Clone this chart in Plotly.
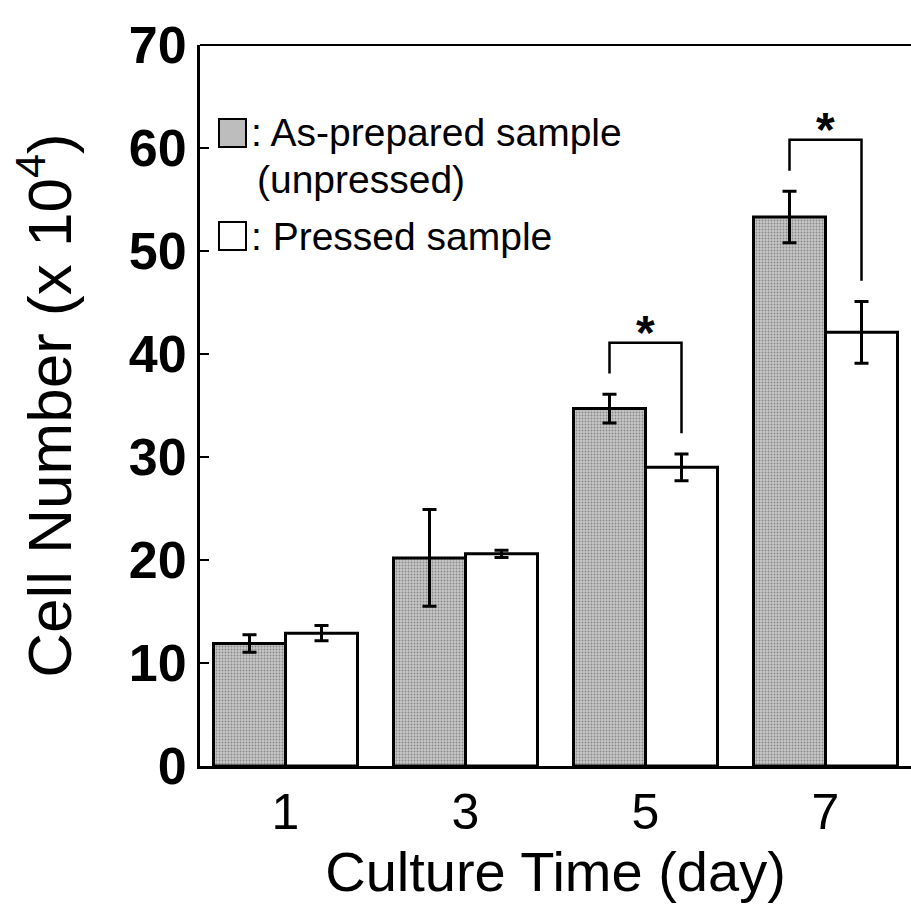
import plotly.graph_objects as go

days = ["1", "3", "5", "7"]
unpressed = [11.9, 20.2, 34.7, 53.3]
unpressed_err = [0.85, 4.7, 1.4, 2.5]
pressed = [12.9, 20.6, 29.0, 42.1]
pressed_err = [0.75, 0.35, 1.3, 3.0]
significant = [False, False, True, True]
y_ticks = [0, 10, 20, 30, 40, 50, 60, 70]

FONT = "Liberation Sans, Arial, sans-serif"

fig = go.Figure()
fig.add_trace(go.Bar(
    x=days, y=unpressed, name="As-prepared sample (unpressed)",
    marker=dict(color="#bdbdbd", line=dict(color="black", width=3),
                pattern=dict(shape=".", fgcolor="#4a4a4a", bgcolor="#c6c6c6",
                             size=3, solidity=0.3)),
    error_y=dict(type="data", array=unpressed_err, color="black",
                 thickness=3, width=7),
))
fig.add_trace(go.Bar(
    x=days, y=pressed, name="Pressed sample",
    marker=dict(color="white", line=dict(color="black", width=3)),
    error_y=dict(type="data", array=pressed_err, color="black",
                 thickness=3, width=7),
))

half = 0.2  # half of a group's bar slot (bargap 0.2, two bars)
for i, sig in enumerate(significant):
    if not sig:
        continue
    xl = i - half
    xr = i + half
    yl = unpressed[i] + unpressed_err[i] + 2.0
    yr = pressed[i] + pressed_err[i] + 2.0
    ytop = max(yl, yr) + 3.0
    fig.add_shape(type="path", xref="x", yref="y",
                  path=f"M {xl} {yl} L {xl} {ytop} L {xr} {ytop} L {xr} {yr}",
                  line=dict(color="black", width=2.5))
    fig.add_annotation(x=i, y=ytop, xref="x", yref="y", text="*",
                       showarrow=False, yanchor="bottom", yshift=-18,
                       font=dict(size=48, family=FONT, color="black", weight="bold"))

# top frame line
fig.add_shape(type="line", xref="paper", yref="paper", x0=0, x1=1, y0=1, y1=1,
              line=dict(color="black", width=2))

# custom legend
fig.add_shape(type="rect", xref="paper", yref="paper",
              x0=0.0267, x1=0.0647, y0=0.8585, y1=0.8974,
              fillcolor="#bdbdbd", line=dict(color="black", width=2))
fig.add_shape(type="rect", xref="paper", yref="paper",
              x0=0.0267, x1=0.0647, y0=0.7157, y1=0.7545,
              fillcolor="white", line=dict(color="black", width=2))
fig.add_annotation(xref="paper", yref="paper", x=0.069, y=0.8793,
                   text=": As-prepared sample", showarrow=False,
                   xanchor="left", yanchor="middle",
                   font=dict(size=39, family=FONT, color="black"))
fig.add_annotation(xref="paper", yref="paper", x=0.077, y=0.8128,
                   text="(unpressed)", showarrow=False,
                   xanchor="left", yanchor="middle",
                   font=dict(size=39, family=FONT, color="black"))
fig.add_annotation(xref="paper", yref="paper", x=0.069, y=0.735,
                   text=": Pressed sample", showarrow=False,
                   xanchor="left", yanchor="middle",
                   font=dict(size=39, family=FONT, color="black"))

fig.update_layout(
    width=911, height=922,
    margin=dict(l=200, r=0, t=45, b=156),
    plot_bgcolor="white", paper_bgcolor="white",
    barmode="group", bargap=0.2, bargroupgap=0,
    showlegend=False,
    font=dict(family=FONT, color="black"),
)
fig.update_xaxes(
    type="category", range=[-0.475, 3.475],
    showline=True, linecolor="black", linewidth=3,
    ticks="", showgrid=False,
    tickfont=dict(size=50, family=FONT, color="black"),
    title=dict(text="Culture Time (day)", font=dict(size=56, family=FONT, color="black"),
               standoff=8),
)
fig.update_yaxes(
    range=[0, 70], tickvals=y_ticks,
    showline=True, linecolor="black", linewidth=3,
    ticks="inside", ticklen=9, tickwidth=2, tickcolor="black",
    showgrid=False, zeroline=False,
    tickfont=dict(size=52, family=FONT, color="black", weight="bold"),
    title=dict(text="Cell Number (x 10<sup>4</sup>)",
               font=dict(size=62, family=FONT, color="black"), standoff=38),
)

fig.write_html("out.html")
